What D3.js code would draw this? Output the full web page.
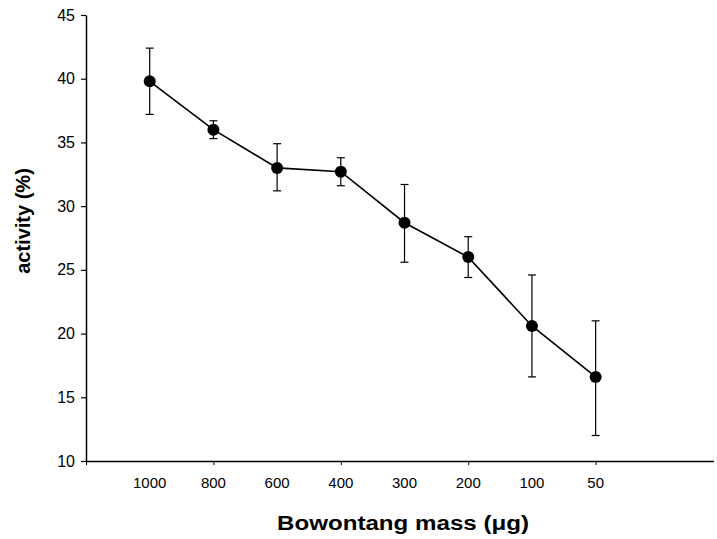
<!DOCTYPE html>
<html>
<head>
<meta charset="utf-8">
<script src="https://cdn.jsdelivr.net/npm/d3@7"></script>
<style>
  body { margin: 0; background: #fff; }
  svg text { font-family: Arial, "Liberation Sans", sans-serif; fill: #000; }
</style>
</head>
<body>
<div id="graph"></div>
<script>
// values
var masses = ['1000', '800', '600', '400', '300', '200', '100', '50']
var activity = [39.8, 36.0, 33.0, 32.7, 28.7, 26.0, 20.6, 16.6]
var errUp = [42.4, 36.7, 34.9, 33.8, 31.7, 27.6, 24.6, 21.0]
var errDown = [37.2, 35.3, 31.2, 31.6, 25.6, 24.4, 16.6, 12.0]
var yTicks = [10, 15, 20, 25, 30, 35, 40, 45]

var width = 717, height = 539

var svg = d3.select('#graph').append('svg')
  .attr('width', width).attr('height', height)

var x = d3.scaleLinear().domain([0, 9.85]).range([86, 713.5])
var y = d3.scaleLinear().domain([10, 45]).range([461, 15])

var data = masses.map((m, i) => ({m, i: i + 1, v: activity[i], hi: errUp[i], lo: errDown[i]}))

// y axis
var yAxis = d3.axisLeft(y).tickValues(yTicks).tickSize(5).tickSizeOuter(0).tickPadding(6)
svg.append('g').attr('transform', 'translate(86,0)').call(yAxis)
  .call(g => g.select('.domain').attr('stroke-width', 1.5))
  .call(g => g.selectAll('.tick line').attr('stroke-width', 1.2))
  .call(g => g.selectAll('.tick text').style('font-size', '16px'))

// x axis: ticks at every other slot, labels under every point
var xAxis = d3.axisBottom(x).tickValues([0, 2, 4, 6, 8]).tickSize(4).tickSizeOuter(0).tickFormat('')
svg.append('g').attr('transform', 'translate(0,461)').call(xAxis)
  .call(g => g.select('.domain').attr('stroke-width', 1.5))

svg.append('g').selectAll('text').data(data).join('text')
  .attr('x', d => x(d.i))
  .attr('y', 488)
  .attr('text-anchor', 'middle')
  .style('font-size', '15px')
  .text(d => d.m)

// error bars
var bars = svg.append('g').selectAll('g').data(data).join('g')
bars.append('line')
  .attr('x1', d => x(d.i)).attr('x2', d => x(d.i))
  .attr('y1', d => y(d.hi)).attr('y2', d => y(d.lo))
  .attr('stroke', '#000').attr('stroke-width', 1.2)
bars.selectAll('line.cap').data(d => [[d.i, d.hi], [d.i, d.lo]]).join('line')
  .attr('class', 'cap')
  .attr('x1', d => x(d[0]) - 4).attr('x2', d => x(d[0]) + 4)
  .attr('y1', d => y(d[1])).attr('y2', d => y(d[1]))
  .attr('stroke', '#000').attr('stroke-width', 1.2)

// line + markers
var line = d3.line().x(d => x(d.i)).y(d => y(d.v))
svg.append('path').datum(data)
  .attr('d', line)
  .attr('fill', 'none').attr('stroke', '#000').attr('stroke-width', 1.6)

svg.append('g').selectAll('circle').data(data).join('circle')
  .attr('cx', d => x(d.i)).attr('cy', d => y(d.v))
  .attr('r', 6).attr('fill', '#000')

// axis titles
svg.append('text')
  .attr('transform', 'translate(30,221) rotate(-90)')
  .attr('text-anchor', 'middle')
  .style('font-size', '20px').style('font-weight', 'bold')
  .text('activity (%)')

svg.append('text')
  .attr('x', 403).attr('y', 530)
  .attr('text-anchor', 'middle')
  .attr('textLength', 252).attr('lengthAdjust', 'spacingAndGlyphs')
  .style('font-size', '20px').style('font-weight', 'bold')
  .text('Bowontang mass (μg)')
</script>
</body>
</html>
